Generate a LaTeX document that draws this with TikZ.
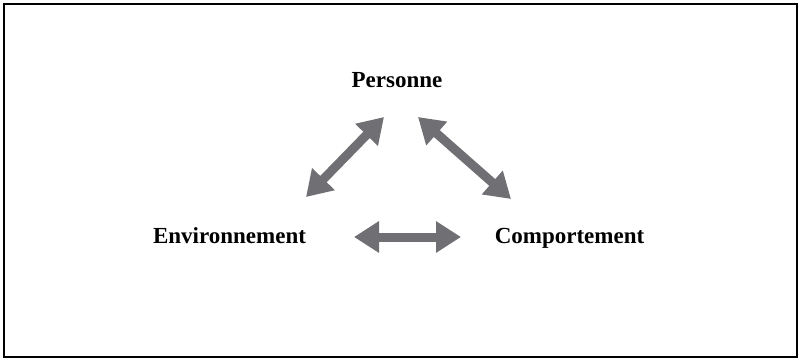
\documentclass[tikz,border=0pt]{standalone}
\usepackage{fontspec}
\setmainfont{Liberation Serif}
\usetikzlibrary{arrows.meta}
\definecolor{arrowgray}{RGB}{112,112,116}
\begin{document}
\begin{tikzpicture}[x=1pt,y=-1pt,
  label/.style={font=\fontsize{23}{25}\selectfont\bfseries, inner sep=0pt, anchor=base},
  link/.style={arrowgray, line width=9pt,
    {Triangle[width=30pt,length=25pt]}-{Triangle[width=30pt,length=25pt]}}]
  \useasboundingbox (0,0) rectangle (799,359);
  \draw[line width=1.3pt] (4,4) rectangle (797,357);
  \node[label] (pers) at (397,87) {Personne};
  \node[label] (env) at (229.5,243) {Environnement};
  \node[label] (comp) at (569.5,243) {Comportement};
  \coordinate (a1) at (306,197);
  \coordinate (a2) at (384,117);
  \coordinate (b1) at (418,117);
  \coordinate (b2) at (511,199);
  \coordinate (c1) at (354,237);
  \coordinate (c2) at (461,237);
  \draw[link] (a1) -- (a2);
  \draw[link] (b1) -- (b2);
  \draw[link] (c1) -- (c2);
\end{tikzpicture}
\end{document}
